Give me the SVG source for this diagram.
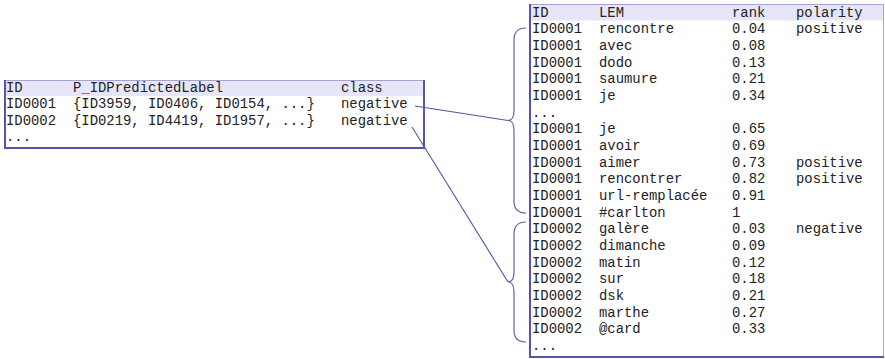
<svg xmlns="http://www.w3.org/2000/svg" width="885" height="359" viewBox="0 0 885 359">
  <style>
    text { font-family: "Liberation Mono", "Courier New", monospace; font-size: 13.9px; fill: #222; }
    .head { fill: #e6e6f8; }
    .edge-dark { stroke: #5454ac; stroke-width: 2; fill: none; }
    .edge-light { stroke: #a4a4d4; stroke-width: 1; fill: none; }
    .link { stroke: #4a5a9a; stroke-width: 1.1; fill: none; }
    .brace { stroke: #5a6a9e; stroke-width: 1.2; fill: none; }
  </style>

  <!-- table of predicted labels per tweet -->
  <g id="predictions">
    <rect x="5" y="80" width="419" height="68" fill="#ffffff"/>
    <rect class="head" x="5" y="80" width="419" height="16"/>
    <line class="edge-light" x1="5" y1="80.5" x2="424" y2="80.5"/>
    <polyline class="edge-dark" points="5,80 5,148 424,148 424,80"/>
    <text x="6" y="92">ID</text>
    <text x="73" y="92">P_IDPredictedLabel</text>
    <text x="341" y="92">class</text>
    <text x="6" y="108">ID0001</text>
    <text x="73" y="108">{ID3959, ID0406, ID0154, ...}</text>
    <text x="341" y="108">negative</text>
    <text x="6" y="125">ID0002</text>
    <text x="73" y="125">{ID0219, ID4419, ID1957, ...}</text>
    <text x="341" y="125">negative</text>
    <text x="6" y="141">...</text>
  </g>

  <!-- table of lemmas with rank and polarity -->
  <g id="lemmas">
    <rect x="530" y="4" width="354" height="353" fill="#ffffff"/>
    <rect class="head" x="530" y="4" width="354" height="16.5"/>
    <polyline class="edge-light" points="530,4.5 883.5,4.5 883.5,357"/>
    <polyline class="edge-dark" points="530,4 530,357 884,357"/>
    <g>
      <text x="532" y="17">ID</text><text x="599" y="17">LEM</text><text x="732" y="17">rank</text><text x="796" y="17">polarity</text>
      <text x="532" y="33.3">ID0001</text><text x="599" y="33.3">rencontre</text><text x="732" y="33.3">0.04</text><text x="796" y="33.3">positive</text>
      <text x="532" y="50">ID0001</text><text x="599" y="50">avec</text><text x="732" y="50">0.08</text>
      <text x="532" y="66.6">ID0001</text><text x="599" y="66.6">dodo</text><text x="732" y="66.6">0.13</text>
      <text x="532" y="83.3">ID0001</text><text x="599" y="83.3">saumure</text><text x="732" y="83.3">0.21</text>
      <text x="532" y="100">ID0001</text><text x="599" y="100">je</text><text x="732" y="100">0.34</text>
      <text x="532" y="116.7">...</text>
      <text x="532" y="133.3">ID0001</text><text x="599" y="133.3">je</text><text x="732" y="133.3">0.65</text>
      <text x="532" y="150">ID0001</text><text x="599" y="150">avoir</text><text x="732" y="150">0.69</text>
      <text x="532" y="166.7">ID0001</text><text x="599" y="166.7">aimer</text><text x="732" y="166.7">0.73</text><text x="796" y="166.7">positive</text>
      <text x="532" y="183.3">ID0001</text><text x="599" y="183.3">rencontrer</text><text x="732" y="183.3">0.82</text><text x="796" y="183.3">positive</text>
      <text x="532" y="200">ID0001</text><text x="599" y="200">url-remplacée</text><text x="732" y="200">0.91</text>
      <text x="532" y="216.7">ID0001</text><text x="599" y="216.7">#carlton</text><text x="732" y="216.7">1</text>
      <text x="532" y="233.3">ID0002</text><text x="599" y="233.3">galère</text><text x="732" y="233.3">0.03</text><text x="796" y="233.3">negative</text>
      <text x="532" y="250">ID0002</text><text x="599" y="250">dimanche</text><text x="732" y="250">0.09</text>
      <text x="532" y="266.7">ID0002</text><text x="599" y="266.7">matin</text><text x="732" y="266.7">0.12</text>
      <text x="532" y="283.3">ID0002</text><text x="599" y="283.3">sur</text><text x="732" y="283.3">0.18</text>
      <text x="532" y="300">ID0002</text><text x="599" y="300">dsk</text><text x="732" y="300">0.21</text>
      <text x="532" y="316.7">ID0002</text><text x="599" y="316.7">marthe</text><text x="732" y="316.7">0.27</text>
      <text x="532" y="333.3">ID0002</text><text x="599" y="333.3">@card</text><text x="732" y="333.3">0.33</text>
      <text x="532" y="350">...</text>
    </g>
  </g>

  <!-- braces grouping the rows of each ID, and the links to them -->
  <g id="connectors">
    <path class="brace" d="M526,28 Q514,28 514,40 L514,110.5 Q514,120.5 508,120.5 Q514,120.5 514,130.5 L514,201 Q514,213 526,213"/>
    <path class="brace" d="M526,222 Q514,222 514,234 L514,272 Q514,282 508,282 Q514,282 514,292 L514,330 Q514,342 526,342"/>
    <line class="link" x1="415" y1="106" x2="508" y2="120.5"/>
    <line class="link" x1="412" y1="127" x2="508" y2="282"/>
  </g>
</svg>
